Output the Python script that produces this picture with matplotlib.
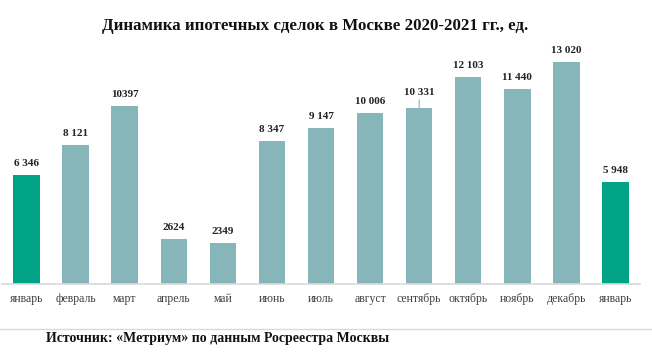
import matplotlib
matplotlib.use("Agg")
import matplotlib.pyplot as plt
from matplotlib.lines import Line2D

months = ["январь", "февраль", "март", "апрель", "май", "июнь", "июль",
          "август", "сентябрь", "октябрь", "ноябрь", "декабрь", "январь"]
values = [6346, 8121, 10397, 2624, 2349, 8347, 9147, 10006, 10331, 12103, 11440, 13020, 5948]
value_labels = ["6 346", "8 121", "10397", "2624", "2349", "8 347", "9 147",
                "10 006", "10 331", "12 103", "11 440", "13 020", "5 948"]
highlight = [True] + [False] * 11 + [True]

green = "#00A385"
grayteal = "#86B6BA"

fig = plt.figure(figsize=(6.52, 3.57), dpi=100)
ax = fig.add_axes([2/652, 73.5/357, 638/652, (357-73.5-45)/357])

x = list(range(len(values)))
colors = [green if h else grayteal for h in highlight]
ax.bar(x, values, width=0.54, color=colors, zorder=2)
ax.set_xlim(-0.5, 12.5)
ax.set_ylim(0, 14000)

for xi, v, lab in zip(x, values, value_labels):
    off = 8.3 if lab != "10 331" else 10.5
    ax.annotate(lab, (xi, v), xytext=(0, off), textcoords="offset points",
                ha="center", va="center", fontsize=8, fontweight="bold",
                family="Liberation Serif", color="#222222")
# leader line for 10 331
ax.annotate("", (8, 10331), xytext=(0, 5.5), textcoords="offset points",
            arrowprops=dict(arrowstyle="-", color="#A6A6A6", lw=0.8, shrinkA=0, shrinkB=0))

for s in ["top", "right", "left"]:
    ax.spines[s].set_visible(False)
ax.spines["bottom"].set_color("#D9D9D9")
ax.spines["bottom"].set_linewidth(1.2)
ax.set_yticks([])
ax.set_xticks(x)
ax.set_xticklabels(months, family="Liberation Serif", fontsize=8.5, color="#404040")
ax.tick_params(axis="x", length=0, pad=7)

fig.text(315.5/652, 1 - 26/357, "Динамика ипотечных сделок в Москве 2020-2021 гг., ед.",
         ha="center", va="center", fontsize=12.2, fontweight="bold",
         family="Liberation Serif", color="#111111")

fig.add_artist(Line2D([0, 1], [1 - 329/357, 1 - 329/357], transform=fig.transFigure,
                      color="#D9D9D9", lw=1))
fig.text(46/652, 1 - 338.5/357, "Источник: «Метриум» по данным Росреестра Москвы",
         ha="left", va="center", fontsize=10, fontweight="bold",
         family="Liberation Serif", color="#111111")

fig.savefig("out.png", dpi=100)
